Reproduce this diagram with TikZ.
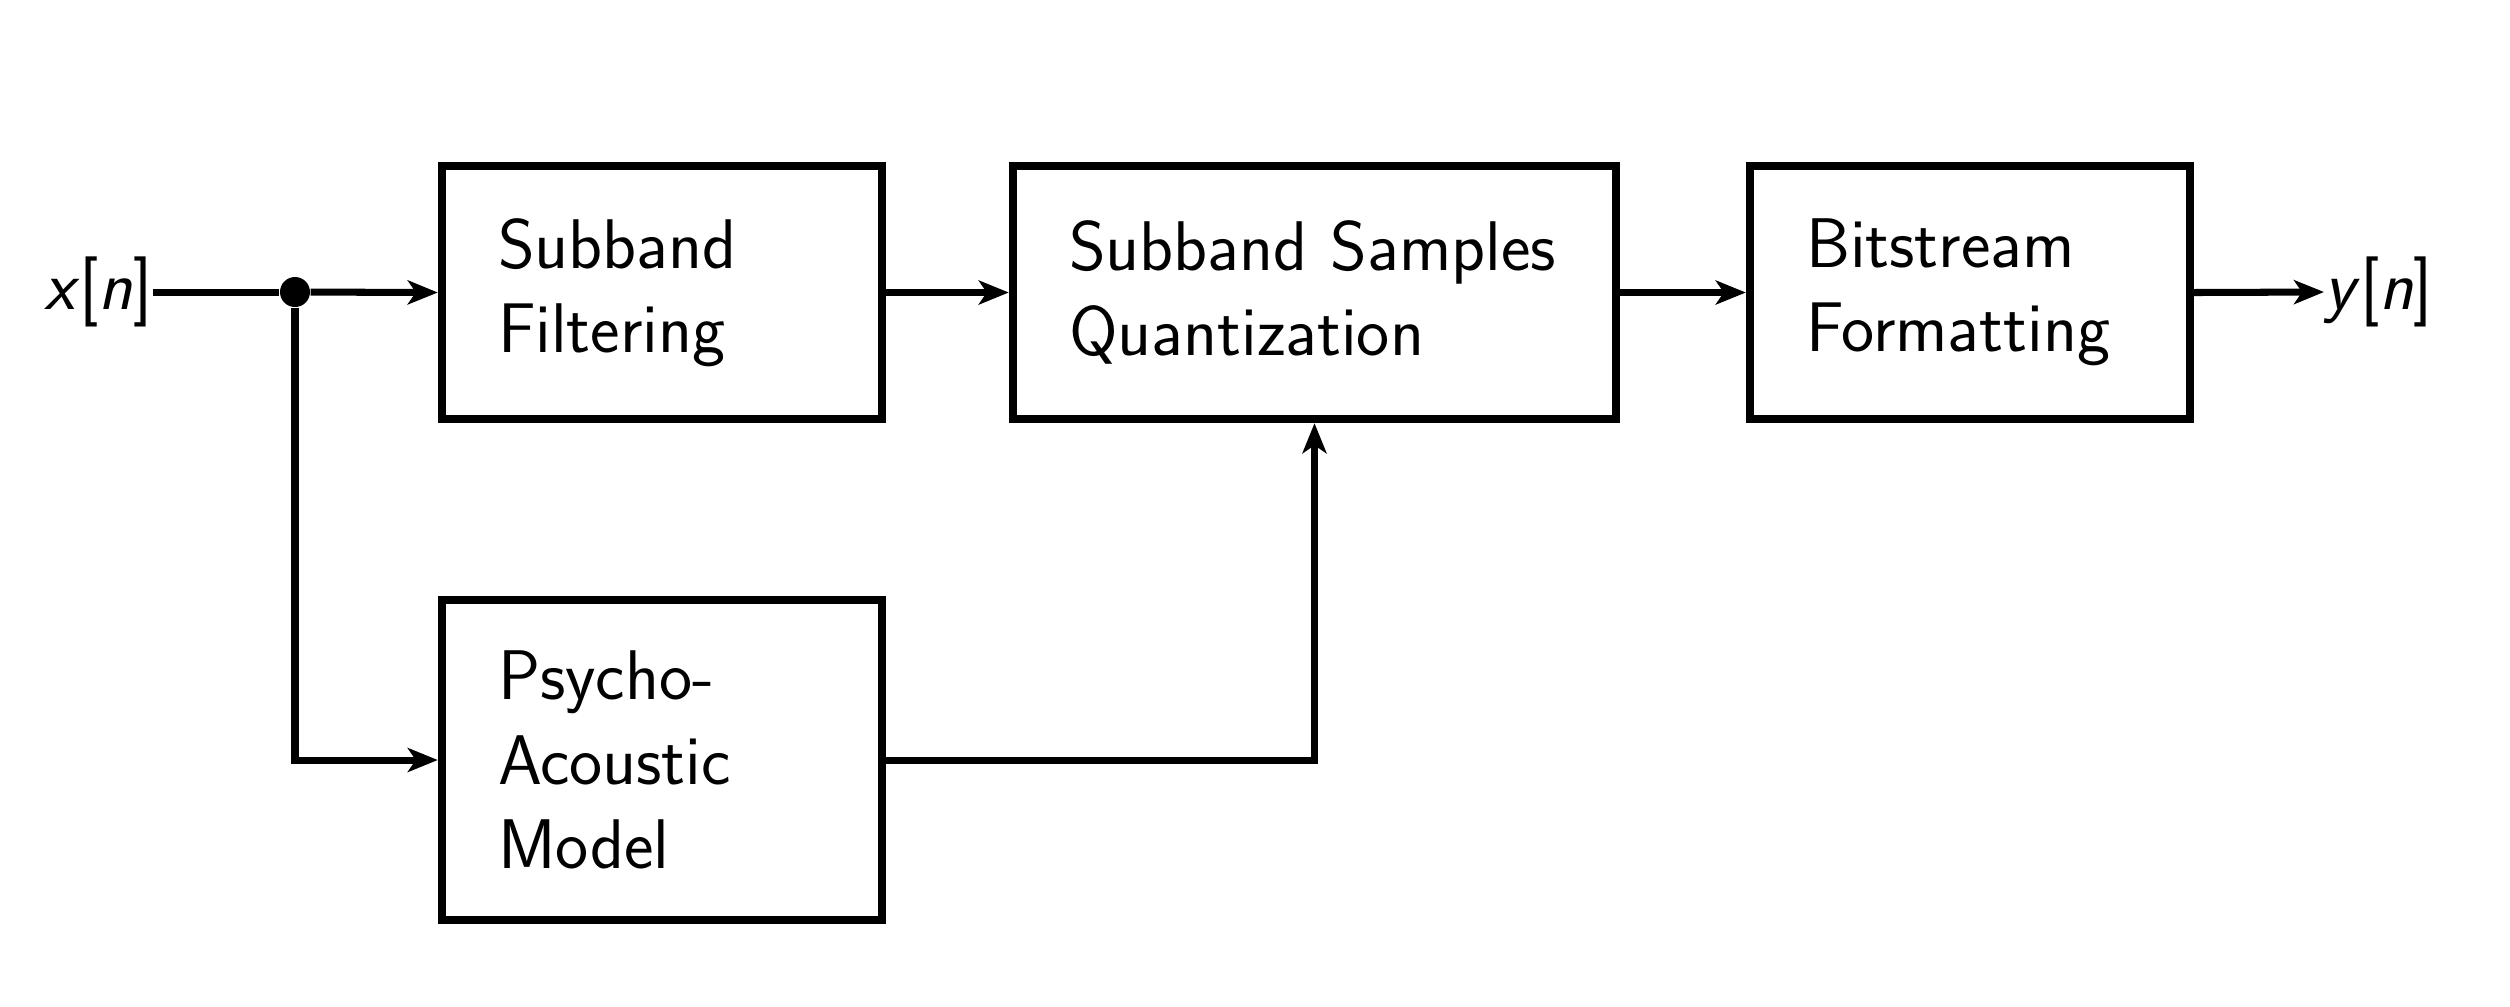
\documentclass[tikz,border=0pt]{standalone}
\usepackage{tikz}
\usetikzlibrary{arrows.meta}

\tikzset{
	block/.style={draw,line width=2.4pt,rectangle,inner xsep=0.56cm,inner ysep=0pt,align=left,font=\sffamily\fontsize{20}{24}\selectfont},
	wire/.style={line width=2pt},
	arrow/.style={wire,-{Stealth[length=3mm,width=2.4mm,inset=0.8mm]}},
	sig/.style={inner sep=0,font=\sffamily\fontsize{20}{24}\selectfont}
}

\begin{document}
\begin{tikzpicture}
	\useasboundingbox (0,0) rectangle (25.1,-10.06);
	\node[block,text width=3.28cm,minimum height=2.53cm] (filter) at (6.62,-2.925) {Subband\\Filtering};
	\node[block,text width=4.91cm,minimum height=2.53cm] (quant) at (13.145,-2.925) {Subband Samples\\Quantization};
	\node[block,text width=3.28cm,minimum height=2.53cm] (format) at (19.70,-2.925) {Bitstream\\Formatting};
	\node[block,text width=3.28cm,minimum height=3.20cm] (psycho) at (6.62,-7.60) {Psycho-\\Acoustic\\Model};
	\node[sig,anchor=east] (xin) at (1.53,-2.92) {\textit{x}[\textit{n}]};
	\node[sig,anchor=west] (yout) at (23.24,-2.92) {\textit{y}[\textit{n}]};
	\node[circle,fill=black,inner sep=0,minimum size=0.3cm] (split) at (2.95,-2.92) {};
	\coordinate (bend) at (split |- psycho.west);
	\coordinate (turn) at (quant.south |- psycho.east);
	\draw[wire] (xin.east) -- (split);
	\draw[arrow] (split) -- (filter.west);
	\draw[arrow] (filter.east) -- (quant.west |- filter.east);
	\draw[arrow] (quant.east |- format.west) -- (format.west);
	\draw[arrow] (format.east) -- (yout.west);
	\draw[arrow] (split) -- (bend) -- (psycho.west);
	\draw[arrow] (psycho.east) -- (turn) -- (quant.south);
\end{tikzpicture}
\end{document}
